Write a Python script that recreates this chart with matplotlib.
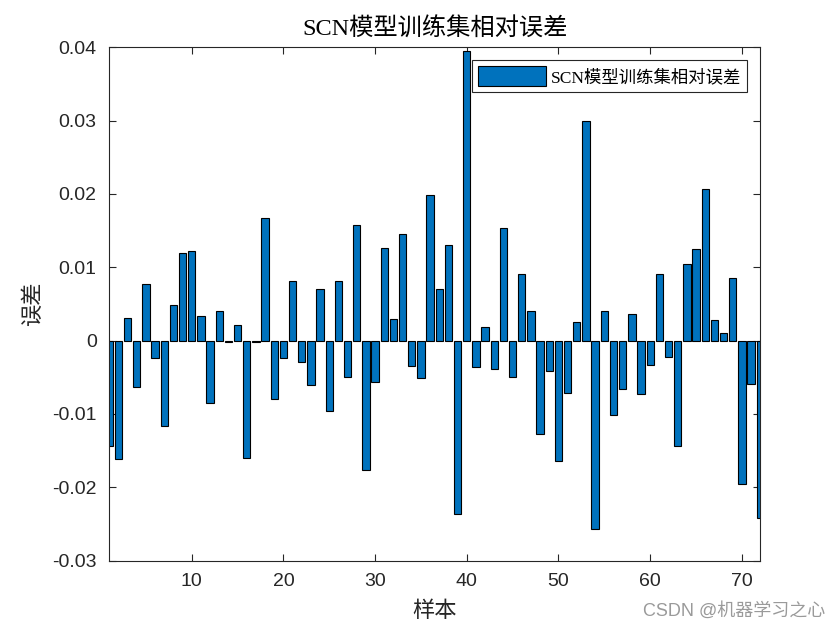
import matplotlib
matplotlib.use("Agg")
import matplotlib.pyplot as plt
import numpy as np

title_text = "SCN模型训练集相对误差"
xlabel_text = "样本"
ylabel_text = "误差"
legend_text = "SCN模型训练集相对误差"
watermark = "CSDN @机器学习之心"

errors = [
    -0.0143, -0.0162, 0.0031, -0.0063, 0.0077, -0.0024, -0.0116, 0.0048, 0.0119, 0.0122,
    0.0033, -0.0085, 0.0041, -0.0002, 0.0022, -0.0160, -0.0002, 0.0167, -0.0080, -0.0024,
    0.0082, -0.0029, -0.0061, 0.0070, -0.0096, 0.0081, -0.0050, 0.0158, -0.0176, -0.0056,
    0.0126, 0.0030, 0.0146, -0.0035, -0.0051, 0.0198, 0.0070, 0.0131, -0.0237, 0.0395,
    -0.0036, 0.0018, -0.0038, 0.0153, -0.0049, 0.0091, 0.0041, -0.0127, -0.0042, -0.0164,
    -0.0072, 0.0025, 0.0299, -0.0257, 0.0040, -0.0101, -0.0066, 0.0036, -0.0073, -0.0033,
    0.0091, -0.0022, -0.0143, 0.0105, 0.0125, 0.0207, 0.0028, 0.0010, 0.0085, -0.0195,
    -0.0059, -0.0242,
]
samples = np.arange(1, len(errors) + 1)
xticks = [10, 20, 30, 40, 50, 60, 70]
yticks = [-0.03, -0.02, -0.01, 0, 0.01, 0.02, 0.03, 0.04]
ytick_labels = ["-0.03", "-0.02", "-0.01", "0", "0.01", "0.02", "0.03", "0.04"]

serif_cjk = ["Liberation Serif", "Noto Sans CJK SC"]
axc = "#262626"

fig = plt.figure(figsize=(8.4, 6.3), dpi=100)
ax = fig.add_axes([0.13, 0.11, 0.775, 0.815])
ax.bar(samples, errors, width=0.8, color="#0072BD", edgecolor="black",
       linewidth=0.8, label=legend_text, zorder=2)
ax.set_xlim(1, 72)
ax.set_ylim(-0.03, 0.04)
ax.set_xticks(xticks)
ax.set_yticks(yticks)
ax.set_yticklabels(ytick_labels)
ax.tick_params(direction="in", length=5, width=0.8, top=True, right=True,
               colors=axc, labelsize=14, pad=9)
for lab in ax.get_xticklabels() + ax.get_yticklabels():
    lab.set_family("Liberation Sans")
    lab.set_color(axc)
for s in ax.spines.values():
    s.set_linewidth(0.8)
    s.set_color(axc)

ax.set_title(title_text, family=serif_cjk, fontsize=17.5, color="black", pad=8)
ax.set_xlabel(xlabel_text, family=serif_cjk, fontsize=16, color=axc, labelpad=8)
ax.set_ylabel(ylabel_text, family=serif_cjk, fontsize=16, color=axc, labelpad=6)

leg = ax.legend(loc="upper right", prop={"family": serif_cjk, "size": 12.5},
                frameon=True, fancybox=False, edgecolor=axc, framealpha=1,
                handlelength=3.9, handleheight=1.4, handletextpad=0.3,
                borderpad=0.35, borderaxespad=0.75)
leg.get_frame().set_linewidth(0.8)

fig.text(0.982, 0.03, watermark, ha="right", va="center", fontsize=13,
         color="#9a9a9a", family=["Liberation Sans", "Noto Sans CJK SC"])

fig.savefig("out.png", dpi=100)
